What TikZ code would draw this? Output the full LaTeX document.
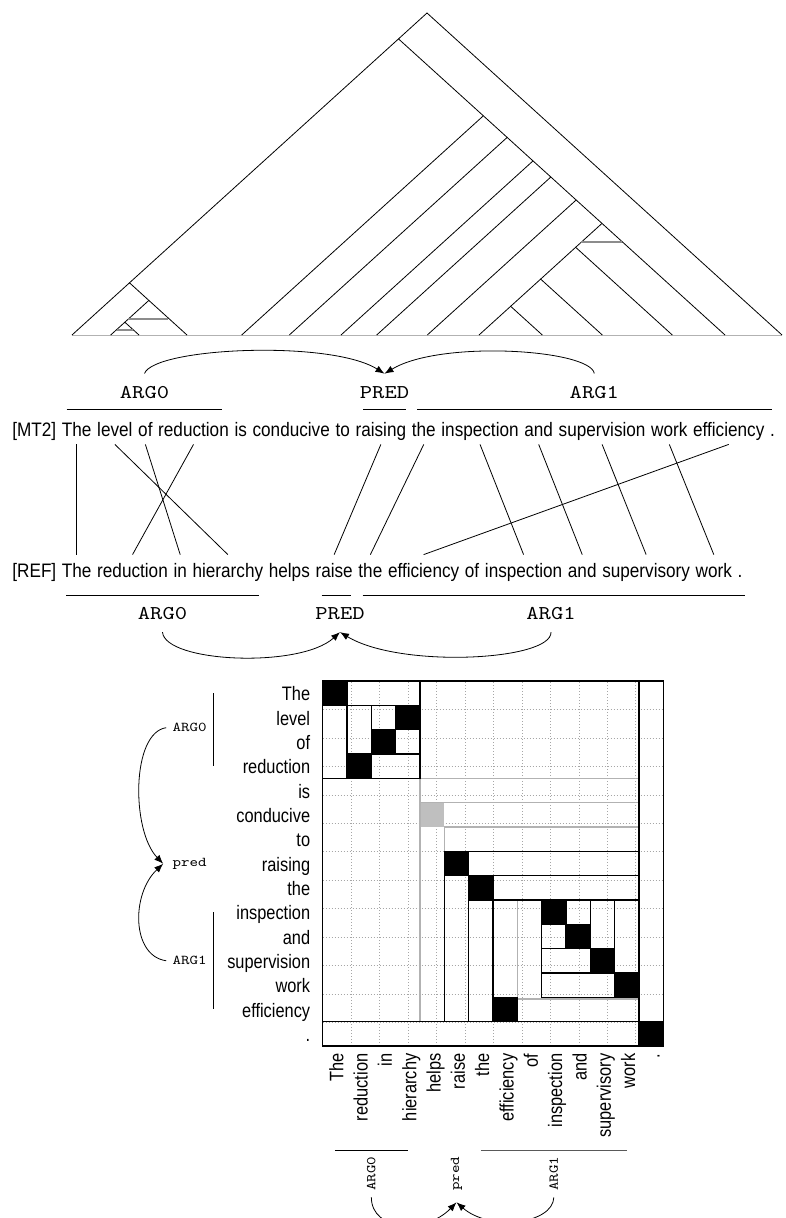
\documentclass[tikz,border=0pt]{standalone}
\usepackage{fontspec}
\usetikzlibrary{positioning,arrows.meta}
\newfontfamily\narrowsans{Liberation Sans}[FakeStretch=0.88]
\newfontfamily\narrowersans{Liberation Sans}[FakeStretch=0.84]
\newfontfamily\widemono{lmmono10-regular.otf}[FakeStretch=1.2]
\tikzset{
  word/.style={font=\narrowsans\fontsize{19.5pt}{22pt}\selectfont, inner sep=0pt, text height=14pt, text depth=4pt},
  mtword/.style={word, inner ysep=4pt},
  refword/.style={word, inner ysep=8pt},
  tok/.style={font=\narrowersans\fontsize{19.5pt}{22pt}\selectfont, inner sep=0pt},
  lab/.style={font=\widemono\fontsize{19.5pt}{22pt}\selectfont, inner sep=0pt},
  slab/.style={font=\widemono\fontsize{13.5pt}{16pt}\selectfont, inner sep=0pt},
  flat/.style={black!45, line width=1.6pt},
  dotgrid/.style={black!35, line width=0.5pt, dash pattern=on 1pt off 2pt},
  graybox/.style={draw=black!30, line width=1.6pt},
  blackbox/.style={draw, line width=1.2pt}
}
\begin{document}
\begin{tikzpicture}[x=1pt, y=-1pt, line width=0.8pt, >={Latex[length=9pt,width=7pt]}]
\useasboundingbox (0,0) rectangle (786,1218);
% tree over the MT2 words
\foreach \x [count=\i from 0] in {72,110.7,139,187,241.7,289.3,341,376.7,427.3,479,542.3,602.3,672.3,725,782}
  \coordinate (l\i) at (\x,335);
\coordinate (n0-14) at (427,13);
\coordinate (n0-13) at (398.5,38.9);
\coordinate (n0-3) at (129.5,282.8);
\coordinate (n1-3) at (148.85,300.4);
\coordinate (n1-2) at (124.85,322.2);
\coordinate (n4-13) at (483.35,115.8);
\coordinate (n5-13) at (507.15,137.4);
\coordinate (n6-13) at (533,160.9);
\coordinate (n7-13) at (550.85,177);
\coordinate (n8-13) at (576.15,200);
\coordinate (n9-13) at (602,223.4);
\coordinate (n9-12) at (575.65,247.3);
\coordinate (n9-11) at (540.65,279.1);
\coordinate (n9-10) at (510.65,306.3);
\draw[black!30] (l0) -- (l14);
\draw (n0-13) -- (n0-14) -- (l14);
\draw (n0-3) -- (n0-13) -- (n4-13);
\draw (l0) -- (n0-3) -- (n1-3);
\draw (n1-2) -- (n1-3) -- (l3);
\draw (l1) -- (n1-2) -- (l2);
\draw (l4) -- (n4-13) -- (n5-13);
\draw (l5) -- (n5-13) -- (n6-13);
\draw (l6) -- (n6-13) -- (n7-13);
\draw (l7) -- (n7-13) -- (n8-13);
\draw (l8) -- (n8-13) -- (n9-13);
\draw (n9-12) -- (n9-13) -- (l13);
\draw (n9-11) -- (n9-12) -- (l12);
\draw (n9-10) -- (n9-11) -- (l11);
\draw (l9) -- (n9-10) -- (l10);
\draw[flat] (128.3,319) -- (168,319);
\draw[flat] (117,330) -- (132.5,330);
\draw[flat] (581,242) -- (622,242);

% MT2 and REF sentences
\node[mtword, anchor=base west] (m0) at (12,436) {[MT2]};
\foreach \w [count=\i, remember=\i as \j (initially 0)] in {The,level,of,reduction,is,conducive,to,raising,the,inspection,and,supervision,work,efficiency,.}
  \node[mtword, base right=4.9pt of m\j] (m\i) {\w};
\node[refword, anchor=base west] (r0) at (12,577) {[REF]};
\foreach \w [count=\i, remember=\i as \j (initially 0)] in {The,reduction,in,hierarchy,helps,raise,the,efficiency,of,inspection,and,supervisory,work,.}
  \node[refword, base right=4.9pt of r\j] (r\i) {\w};
\foreach \a/\b in {1/1,2/4,3/3,4/2,8/6,9/7,10/10,11/11,12/12,13/13,14/8}
  \draw (m\a.south) -- (r\b.north);

% roles of MT2
\draw (66.7,409) -- (222.3,409);
\draw (363.3,409) -- (405.7,409);
\draw (417,409) -- (771.7,409);
\node[lab, anchor=base] (ma0) at (144.5,398) {ARG0};
\node[lab, anchor=base] (mpr) at (384.5,398) {PRED};
\node[lab, anchor=base] (ma1) at (594.3,398) {ARG1};
\draw[->] ([yshift=12pt]ma0.north) .. controls +(10,-26) and +(-54,-34) .. ([yshift=12pt]mpr.north);
\draw[->] ([yshift=12pt]ma1.north) .. controls +(-4,-24) and +(56,-34) .. ([yshift=12pt]mpr.north);

% roles of REF
\draw (66,595) -- (259,595);
\draw (321.7,595) -- (351,595);
\draw (362.7,595) -- (745,595);
\node[lab, anchor=base] (ra0) at (162.5,619.5) {ARG0};
\node[lab, anchor=base] (rpr) at (340,619.5) {PRED};
\node[lab, anchor=base] (ra1) at (551,619.5) {ARG1};
\draw[->] ([yshift=-12pt]ra0.south) .. controls +(2.5,30.5) and +(-40,36.5) .. ([yshift=-12pt]rpr.south);
\draw[->] ([yshift=-12pt]ra1.south) .. controls +(1,28.5) and +(60,36.5) .. ([yshift=-12pt]rpr.south);

% alignment matrix
\begin{scope}[shift={(322.7,681)}, x=24.33pt, y=-24.33pt]
\draw[dotgrid] (0,0) grid (14,15);
\fill[black!25] (4,5) rectangle (5,6);
\draw[graybox] (4,4) rectangle (13,14);
\draw[graybox] (4,5) rectangle (13,14);
\draw[graybox] (5,6) rectangle (13,14);
\draw[graybox] (8,9) rectangle (13,13.06);
\draw[blackbox] (0,0) rectangle (4,4);
\draw[blackbox] (1,1) rectangle (4,4);
\draw[blackbox] (2,1) rectangle (4,3);
\draw[blackbox] (5,7) rectangle (13,14);
\draw[blackbox] (6,8) rectangle (13,14);
\draw[blackbox] (7,9) rectangle (13,14);
\draw[blackbox] (9,9) rectangle (13,13);
\draw[blackbox] (9,9) rectangle (12,12);
\draw[blackbox] (9,9) rectangle (11,11);
\draw[blackbox] (0,0) rectangle (13,14);
\draw[blackbox] (0,0) rectangle (14,15);
\foreach \r/\c in {0/0,1/3,2/2,3/1,7/5,8/6,9/9,10/10,11/11,12/12,13/7,14/13}
  \filldraw[line width=1.2pt] (\c,\r) rectangle ++(1,1);
\foreach \w [count=\i from 0] in {The,level,of,reduction,is,conducive,to,raising,the,inspection,and,supervision,work,efficiency,.}
  \node[tok, anchor=base east] (row\i) at (-0.5,{\i+0.81}) {\w};
\foreach \w [count=\i from 0] in {The,reduction,in,hierarchy,helps,raise,the,efficiency,of,inspection,and,supervisory,work,.}
  \node[tok, rotate=90, anchor=base east] (col\i) at ({\i+0.845},15.3) {\w};
% roles along the rows
\draw (-4.5,0.5) -- (-4.5,3.5);
\draw (-4.5,9.5) -- (-4.5,13.5);
\node[slab, anchor=mid] (la0) at (-5.47,2) {ARG0};
\node[slab, anchor=mid] (lpr) at (-5.47,7.53) {pred};
\node[slab, anchor=mid] (la1) at (-5.47,11.58) {ARG1};
% roles along the columns
\draw (0.5,19.28) -- (3.5,19.28);
\draw[black!65] (6.5,19.28) -- (12.5,19.28);
\node[slab, rotate=90] (ba0) at (2,20.26) {ARG0};
\node[slab, rotate=90] (bpr) at (5.5,20.26) {pred};
\node[slab, rotate=90] (ba1) at (9.5,20.26) {ARG1};
\end{scope}
\draw[->] ([xshift=-6pt]la0.west) .. controls +(-35,5) and +(-32,-33) .. ([xshift=-9pt]lpr.west);
\draw[->] ([xshift=-6pt]la1.west) .. controls +(-35,-5) and +(-32,30) .. ([xshift=-9pt]lpr.west);
\draw[->] ([yshift=-6pt]ba0.west) .. controls +(0,34) and +(-31,32) .. ([yshift=-11pt]bpr.west);
\draw[->] ([yshift=-6pt]ba1.west) .. controls +(-1,27) and +(33,29) .. ([yshift=-11pt]bpr.west);
\end{tikzpicture}
\end{document}
